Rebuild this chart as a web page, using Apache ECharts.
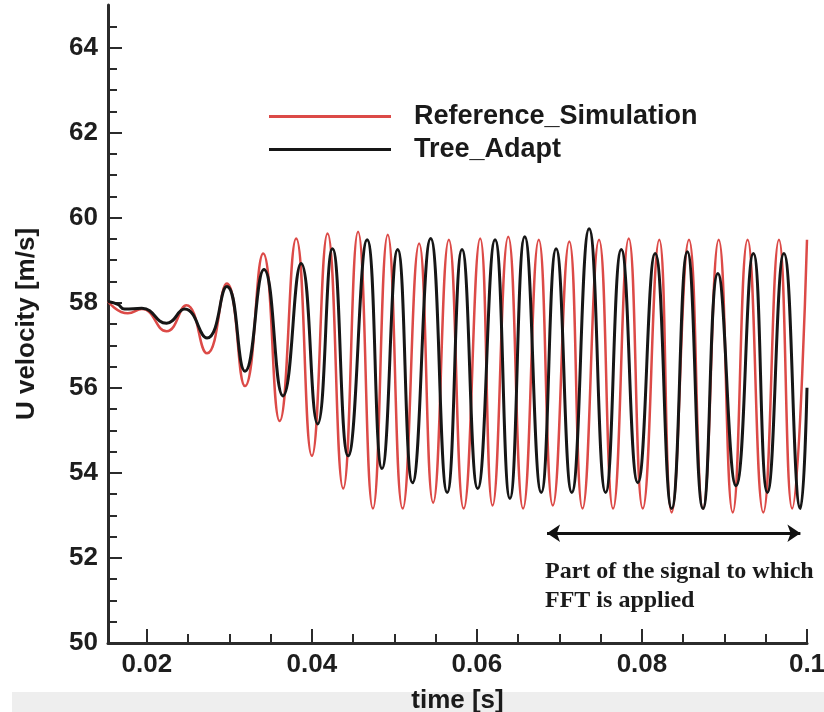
<!DOCTYPE html>
<html>
<head>
<meta charset="utf-8">
<script src="https://cdn.jsdelivr.net/npm/echarts@6/dist/echarts.min.js"></script>
<style>
html, body { margin: 0; background: #fff; }
#chart { width: 824px; height: 712px; }
</style>
</head>
<body>
<div id="chart"></div>
<script>
// 读图得到的峰谷点 [time, U]
const refSim = [
    [0.0153, 58.03], [0.0177, 57.75], [0.0194, 57.85], [0.0224, 57.33], [0.0248, 57.94],
    [0.0273, 56.81], [0.0297, 58.45], [0.0319, 56.04], [0.0341, 59.16], [0.0361, 55.22],
    [0.0381, 59.51], [0.0400, 54.40], [0.0419, 59.63], [0.0438, 53.63], [0.0456, 59.67],
    [0.0474, 53.16], [0.0492, 59.60], [0.0510, 53.16], [0.0530, 59.39], [0.0547, 53.30],
    [0.0566, 59.48], [0.0584, 53.16], [0.0604, 59.51], [0.0619, 53.23], [0.0638, 59.55],
    [0.0656, 53.16], [0.0675, 59.48], [0.0692, 53.23], [0.0712, 59.44], [0.0728, 53.16],
    [0.0748, 59.48], [0.0765, 53.16], [0.0784, 59.51], [0.0801, 53.16], [0.0821, 59.48],
    [0.0836, 53.07], [0.0857, 59.48], [0.0874, 53.16], [0.0893, 59.48], [0.0910, 53.07],
    [0.0928, 59.48], [0.0947, 53.07], [0.0966, 59.48], [0.0982, 53.16], [0.1000, 59.48]
];
const treeAdapt = [
    [0.0153, 58.03], [0.0165, 57.96], [0.0173, 57.85], [0.0194, 57.87], [0.0224, 57.52],
    [0.0246, 57.85], [0.0273, 57.17], [0.0297, 58.38], [0.0319, 56.39], [0.0342, 58.78],
    [0.0365, 55.81], [0.0387, 58.92], [0.0407, 55.15], [0.0425, 59.27], [0.0444, 54.40],
    [0.0467, 59.48], [0.0485, 54.10], [0.0504, 59.25], [0.0522, 53.77], [0.0544, 59.51],
    [0.0564, 53.54], [0.0582, 59.25], [0.0601, 53.63], [0.0622, 59.48], [0.0640, 53.40],
    [0.0658, 59.55], [0.0678, 53.54], [0.0696, 59.27], [0.0715, 53.54], [0.0736, 59.74],
    [0.0756, 53.54], [0.0775, 59.25], [0.0795, 53.77], [0.0816, 59.16], [0.0836, 53.16],
    [0.0855, 59.20], [0.0874, 53.16], [0.0892, 58.69], [0.0914, 53.70], [0.0935, 59.16],
    [0.0952, 53.54], [0.0972, 59.16], [0.0992, 53.16], [0.1000, 56.00]
];
const xMajor = [0.02, 0.04, 0.06, 0.08, 0.1];
const xMinor = [0.025, 0.03, 0.035, 0.045, 0.05, 0.055, 0.065, 0.07, 0.075, 0.085, 0.09, 0.095];
const yMajor = [50, 52, 54, 56, 58, 60, 62, 64];
const yMinor = [50.5, 51, 51.5, 52.5, 53, 53.5, 54.5, 55, 55.5, 56.5, 57, 57.5,
    58.5, 59, 59.5, 60.5, 61, 61.5, 62.5, 63, 63.5, 64.5];
// FFT 区间箭头
const fftRange = [0.0685, 0.0992];
const arrowLevel = 52.58;

const axisColor = '#2b2b2b';
const redColor = '#dc4a47';
const blackColor = '#161616';
const sans = '"Liberation Sans", Arial, sans-serif';

var chart = echarts.init(document.getElementById('chart'));

// 主轴 (标签 + 长刻度) 和副轴 (短刻度) 叠在一起
function xAxisDef(major) {
    return {
        type: 'value',
        min: 0.0153,
        max: 0.1,
        position: 'bottom',
        offset: 0,
        name: major ? 'time [s]' : '',
        nameLocation: 'middle',
        nameGap: 45,
        nameTextStyle: { fontFamily: sans, fontSize: 26, fontWeight: 'bold', color: '#1a1a1a' },
        axisLine: { show: major, lineStyle: { color: axisColor, width: 3 } },
        axisTick: {
            show: true, inside: true, length: major ? 14 : 9,
            customValues: major ? xMajor : xMinor,
            lineStyle: { color: axisColor, width: 2 }
        },
        axisLabel: {
            show: major, customValues: xMajor, margin: 9,
            fontFamily: sans, fontSize: 26, fontWeight: 'bold', color: '#1e1e1e'
        },
        splitLine: { show: false }
    };
}
function yAxisDef(major) {
    return {
        type: 'value',
        min: 50,
        max: 65,
        position: 'left',
        offset: 0,
        name: major ? 'U velocity [m/s]' : '',
        nameLocation: 'middle',
        nameGap: 68,
        nameTextStyle: { fontFamily: sans, fontSize: 26, fontWeight: 'bold', color: '#1a1a1a' },
        axisLine: { show: major, lineStyle: { color: axisColor, width: 3 } },
        axisTick: {
            show: true, inside: true, length: major ? 14 : 9,
            customValues: major ? yMajor : yMinor,
            lineStyle: { color: axisColor, width: 2 }
        },
        axisLabel: {
            show: major, customValues: yMajor, margin: 10,
            fontFamily: sans, fontSize: 26, fontWeight: 'bold', color: '#1e1e1e'
        },
        splitLine: { show: false }
    };
}

option = {
    backgroundColor: '#fff',
    animation: false,
    grid: { left: 108, right: 17, top: 5, bottom: 69, containLabel: false, outerBoundsMode: 'none' },
    legend: {
        data: ['Reference_Simulation', 'Tree_Adapt'],
        orient: 'vertical',
        left: 264,
        top: 98,
        icon: 'rect',
        itemWidth: 122,
        itemHeight: 3,
        itemGap: 6,
        textStyle: {
            fontFamily: sans, fontSize: 27, fontWeight: 'bold', color: '#1a1a1a',
            lineHeight: 26, padding: [0, 0, 0, 18]
        }
    },
    xAxis: [xAxisDef(true), xAxisDef(false)],
    yAxis: [yAxisDef(true), yAxisDef(false)],
    series: [{
        name: 'Reference_Simulation',
        type: 'line',
        data: refSim,
        smooth: 0.5,
        showSymbol: false,
        itemStyle: { color: redColor },
        lineStyle: { color: redColor, width: 2.5 }
    }, {
        name: 'Tree_Adapt',
        type: 'line',
        data: treeAdapt,
        smooth: 0.5,
        showSymbol: false,
        itemStyle: { color: blackColor },
        lineStyle: { color: blackColor, width: 3 },
        markLine: {
            silent: true,
            symbol: ['arrow', 'arrow'],
            symbolSize: 13,
            label: { show: false },
            lineStyle: { color: '#111', width: 3, type: 'solid' },
            data: [[{ coord: [fftRange[0], arrowLevel] }, { coord: [fftRange[1], arrowLevel] }]]
        }
    }]
};
chart.setOption(option);

// 注释文字放在箭头下方, 底部灰条
var p = chart.convertToPixel({ xAxisIndex: 0, yAxisIndex: 0 }, [fftRange[0], arrowLevel]);
chart.setOption({
    graphic: [{
        type: 'rect', z: -10, left: 12, top: 692,
        shape: { width: 812, height: 20 },
        style: { fill: '#eeeeee' }
    }, {
        type: 'text',
        left: p[0] - 2,
        top: p[1] + 24,
        style: {
            text: 'Part of the signal to which\nFFT is applied',
            fontFamily: '"Liberation Serif", "Times New Roman", serif',
            fontSize: 24,
            fontWeight: 'bold',
            lineHeight: 29,
            fill: '#1a1a1a'
        }
    }]
});
</script>
</body>
</html>
